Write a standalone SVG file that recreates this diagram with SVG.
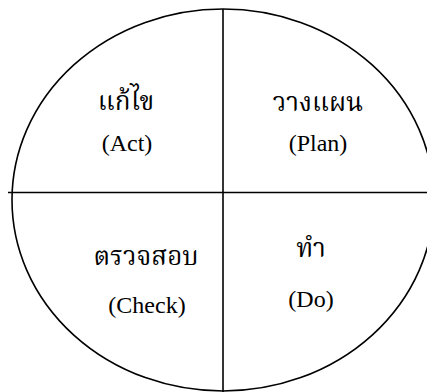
<svg xmlns="http://www.w3.org/2000/svg" width="427" height="392" viewBox="0 0 427 392">
<style>
.ln{stroke:#000;stroke-width:1.6;fill:none}
.t{font-family:"Liberation Serif","Noto Serif Thai","Noto Sans Thai","DejaVu Serif",serif;font-size:24px;fill:#000;text-anchor:middle}
.th{font-size:26px}
</style>
<rect width="427" height="392" fill="#fff"/>
<g id="circle">
<ellipse class="ln" cx="223" cy="200" rx="211" ry="191"/>
</g>
<g id="connectors">
<line class="ln" x1="223" y1="9" x2="223" y2="392"/>
<line class="ln" x1="8" y1="192.5" x2="427" y2="192.5"/>
</g>
<g id="act">
<text class="t th" x="126" y="110">แก้ไข</text>
<text class="t" x="127" y="151">(Act)</text>
</g>
<g id="plan">
<text class="t th" x="318" y="111">วางแผน</text>
<text class="t" x="318" y="151">(Plan)</text>
</g>
<g id="check">
<text class="t th" x="146" y="265">ตรวจสอบ</text>
<text class="t" x="147" y="313">(Check)</text>
</g>
<g id="do">
<text class="t th" x="311" y="257">ทำ</text>
<text class="t" x="311" y="307">(Do)</text>
</g>
</svg>
